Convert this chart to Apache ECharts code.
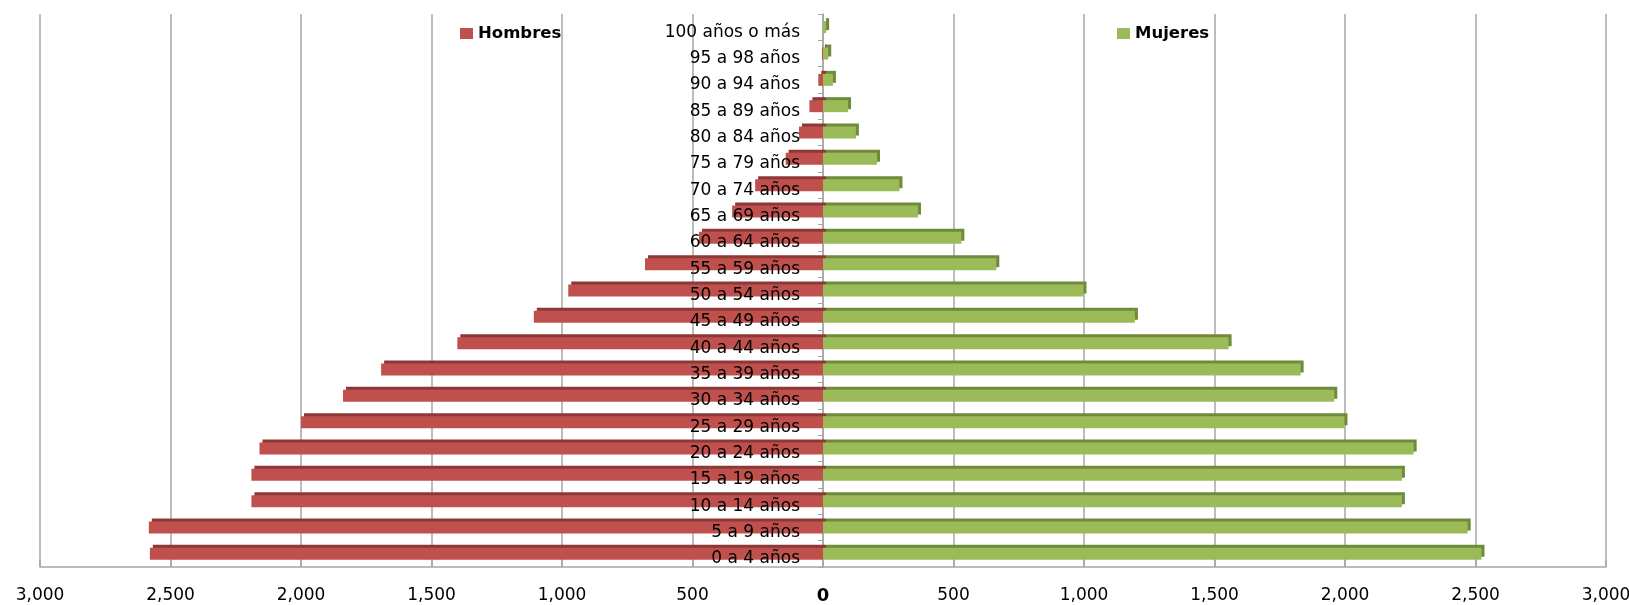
<!DOCTYPE html>
<html>
<head>
<meta charset="utf-8">
<script src="https://cdn.jsdelivr.net/npm/echarts@6/dist/echarts.min.js"></script>
<style>html,body{margin:0;padding:0;background:#fff;}#c{width:1629px;height:605px;}</style>
</head>
<body>
<div id="c"></div>
<script>
var categories = ['0 a 4 años','5 a 9 años','10 a 14 años','15 a 19 años','20 a 24 años','25 a 29 años','30 a 34 años','35 a 39 años','40 a 44 años','45 a 49 años','50 a 54 años','55 a 59 años','60 a 64 años','65 a 69 años','70 a 74 años','75 a 79 años','80 a 84 años','85 a 89 años','90 a 94 años','95 a 98 años','100 años o más'];
var hombres = [2579, 2583, 2190, 2190, 2159, 2000, 1839, 1693, 1401, 1108, 976, 682, 475, 348, 260, 143, 92, 52, 18, 4, 0];
var mujeres = [2523, 2470, 2218, 2218, 2263, 1998, 1959, 1830, 1554, 1195, 998, 664, 530, 364, 293, 207, 126, 96, 38, 20, 12];
var xTicks = [-3000, 3000, 500];

var FONT = 'DejaVu Sans';
var chart = echarts.init(document.getElementById('c'), null, {renderer: 'canvas'});
function fmt(v) {
  var a = Math.abs(v);
  return a.toString().replace(/\B(?=(\d{3})+(?!\d))/g, ',');
}
chart.setOption({
  animation: false,
  backgroundColor: '#ffffff',
  grid: {left: 40, right: 23, top: 14, bottom: 38, containLabel: false, outerBoundsMode: 'none'},
  legend: [
    {data: ['Hombres'], left: 455, top: 20, icon: 'rect', itemWidth: 13, itemHeight: 11, itemGap: 6,
     textStyle: {fontFamily: FONT, fontWeight: 'bold', fontSize: 16.5, color: '#000'}},
    {data: ['Mujeres'], left: 1112, top: 20, icon: 'rect', itemWidth: 13, itemHeight: 11, itemGap: 6,
     textStyle: {fontFamily: FONT, fontWeight: 'bold', fontSize: 16.5, color: '#000'}}
  ],
  xAxis: {
    type: 'value', min: xTicks[0], max: xTicks[1], interval: xTicks[2],
    axisLine: {show: true, lineStyle: {color: '#a6a6a6', width: 1.5}},
    axisTick: {show: true, inside: true, length: 7, lineStyle: {color: '#a6a6a6', width: 1.5}},
    splitLine: {show: true, lineStyle: {color: '#a6a6a6', width: 1.5}},
    axisLabel: {
      margin: 20, fontFamily: FONT, fontSize: 17, color: '#000',
      formatter: function (v) { return v === 0 ? '{z|0}' : fmt(v); },
      rich: {z: {fontFamily: FONT, fontSize: 18, fontWeight: 'bold', color: '#000'}}
    }
  },
  yAxis: {
    type: 'category', data: categories,
    axisLine: {show: true, onZero: true, lineStyle: {color: '#a6a6a6', width: 1.5}},
    axisTick: {show: true, length: 5, lineStyle: {color: '#a6a6a6'}},
    axisLabel: {show: false}
  },
  series: [
    {
      name: 'Hombres', type: 'bar', stack: 'p', barWidth: 12,
      data: hombres.map(function (v) { return -v; }),
      itemStyle: {color: '#C0504D', shadowColor: '#8C3836', shadowBlur: 0, shadowOffsetX: 3, shadowOffsetY: -3}
    },
    {
      name: 'Mujeres', type: 'bar', stack: 'p', barWidth: 12,
      data: mujeres,
      itemStyle: {color: '#9BBB59', shadowColor: '#6F8A3A', shadowBlur: 0, shadowOffsetX: 3, shadowOffsetY: -3}
    },
    {
      name: 'labels', type: 'scatter', symbolSize: 0, z: 10, silent: true,
      itemStyle: {opacity: 1},
      data: categories.map(function (c) { return [0, c]; }),
      label: {show: true, position: 'left', distance: 23, offset: [0, 5], opacity: 1,
        formatter: function (p) { return p.value[1]; },
        fontFamily: FONT, fontSize: 17, color: '#000'}
    }
  ]
});
</script>
</body>
</html>
